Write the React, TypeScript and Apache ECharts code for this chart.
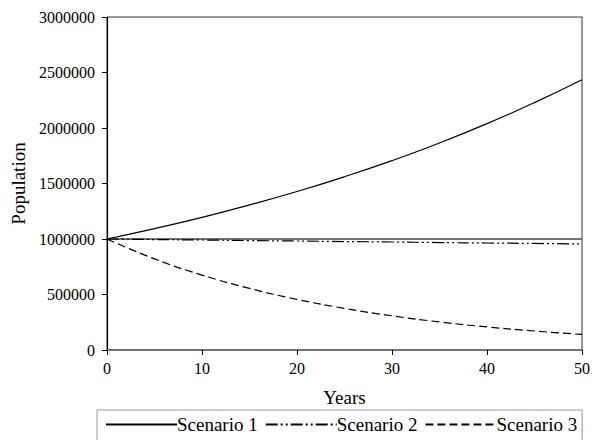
import React, { useEffect, useRef } from "react";
import * as echarts from "echarts";

const years = [0, 5, 10, 15, 20, 25, 30, 35, 40, 45, 50];
const scenario1 = [1000000, 1093000, 1195000, 1307000, 1428000, 1561000, 1706000, 1865000, 2039000, 2229000, 2435000];
const scenario2 = [1000000, 995000, 991000, 986000, 982000, 977000, 973000, 968000, 964000, 960000, 955000];
const scenario3 = [1000000, 821000, 675000, 555000, 456000, 375000, 308000, 253000, 208000, 171000, 140000];
const baseline = [1000000, 1000000];
const baselineYears = [0, 50];
const seriesNames = ["Scenario 1", "Scenario 2", "Scenario 3"];

const FONT = "Liberation Serif";

export default function App() {
  const ref = useRef<HTMLDivElement>(null);
  useEffect(() => {
    if (!ref.current) return;
    const chart = echarts.init(ref.current, undefined, { renderer: "svg" });
    const pairs = (xs: number[], ys: number[]) => xs.map((x, i) => [x, ys[i]]);
    chart.setOption({
      animation: false,
      backgroundColor: "#fff",
      textStyle: { fontFamily: FONT },
      grid: {
        left: 107,
        right: 18,
        top: 17,
        bottom: 90,
        show: true,
        borderColor: "#333",
        borderWidth: 1,
        outerBoundsMode: "none",
        containLabel: false,
      },
      xAxis: {
        type: "value",
        min: 0,
        max: 50,
        interval: 10,
        name: "Years",
        nameLocation: "middle",
        nameGap: 38,
        nameTextStyle: { fontFamily: FONT, fontSize: 19, color: "#000" },
        axisLine: { show: true, lineStyle: { color: "#666", width: 1.5 } },
        axisTick: { show: true, inside: false, length: 5, lineStyle: { color: "#000" } },
        axisLabel: { fontFamily: FONT, fontSize: 16, color: "#000", margin: 10, formatter: (v: number) => String(v) },
        splitLine: { show: false },
      },
      yAxis: {
        type: "value",
        min: 0,
        max: 3000000,
        interval: 500000,
        name: "Population",
        nameLocation: "middle",
        nameGap: 78,
        nameTextStyle: { fontFamily: FONT, fontSize: 19, color: "#000" },
        axisLine: { show: true, lineStyle: { color: "#000", width: 1.2 } },
        axisTick: { show: true, inside: false, length: 5, lineStyle: { color: "#000" } },
        axisLabel: { fontFamily: FONT, fontSize: 16, color: "#000", margin: 12, formatter: (v: number) => String(v) },
        splitLine: { show: false },
      },
      legend: {
        data: seriesNames,
        left: 97,
        top: 410,
        padding: [5, 5, 20, 8],
        borderColor: "#999",
        borderWidth: 1,
        itemWidth: 71,
        itemHeight: 14,
        itemGap: 7,
        itemStyle: { opacity: 0 },
        textStyle: { fontFamily: FONT, fontSize: 19, color: "#000", padding: [0, 0, 0, -5] },
      },
      series: [
        {
          name: "Baseline",
          type: "line",
          data: pairs(baselineYears, baseline),
          symbol: "none",
          silent: true,
          lineStyle: { color: "#444", width: 1.5, type: "solid" },
          z: 1,
        },
        {
          name: seriesNames[0],
          type: "line",
          data: pairs(years, scenario1),
          smooth: true,
          symbol: "none",
          lineStyle: { color: "#000", width: 1.2, type: "solid" },
          itemStyle: { color: "#000" },
        },
        {
          name: seriesNames[1],
          type: "line",
          data: pairs(years, scenario2),
          smooth: true,
          symbol: "none",
          lineStyle: { color: "#000", width: 1.2, type: [12, 3, 2, 3, 2, 3] },
          itemStyle: { color: "#000" },
        },
        {
          name: seriesNames[2],
          type: "line",
          data: pairs(years, scenario3),
          smooth: true,
          symbol: "none",
          lineStyle: { color: "#000", width: 1.2, type: [8, 4] },
          itemStyle: { color: "#000" },
        },
      ],
    });
    return () => chart.dispose();
  }, []);
  return <div ref={ref} style={{ width: 600, height: 440, position: "absolute", left: 0, top: 0 }} />;
}
